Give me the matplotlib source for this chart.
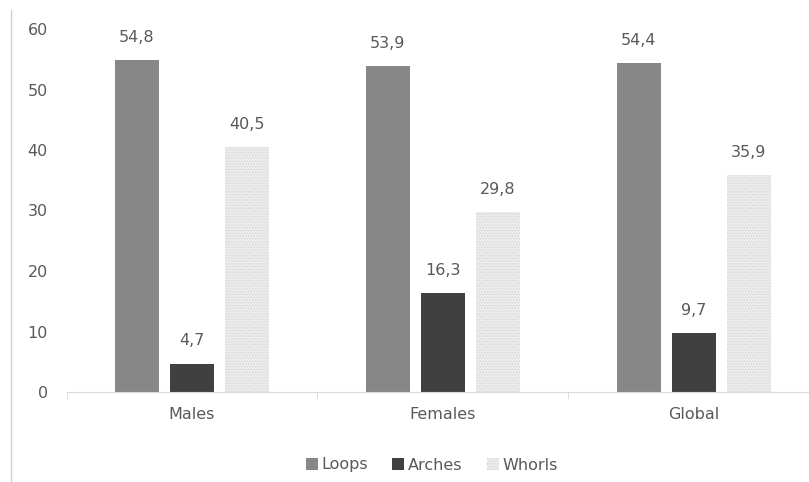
import matplotlib.pyplot as plt
import matplotlib.lines as mlines
import numpy as np

plt.rcParams["font.family"] = ["DejaVu Sans"]
plt.rcParams["hatch.linewidth"] = 0.6

groups = ["Males", "Females", "Global"]
series = ["Loops", "Arches", "Whorls"]
loops = [54.8, 53.9, 54.4]
arches = [4.7, 16.3, 9.7]
whorls = [40.5, 29.8, 35.9]

colors = ["#878787", "#404040", "#ececec"]
txt = "#595959"
fs = 11.5

W, H = 809, 482
unit = 250.75  # px per category
left = 192 - 0.5 * unit
fig = plt.figure(figsize=(W / 100, H / 100), dpi=100)
ax = fig.add_axes([left / W, 1 - 392 / H, 3 * unit / W, (392 - 29) / H])

x = np.arange(len(groups))
w = 44 / unit
step = 55 / unit
for i, (name, vals) in enumerate(zip(series, [loops, arches, whorls])):
    pos = x + (i - 1) * step
    kw = {}
    if name == "Whorls":
        kw = dict(hatch="......", edgecolor="#d4d4d4", linewidth=0)
    bars = ax.bar(pos, vals, w, color=colors[i], label=name, **kw)
    for b, v in zip(bars, vals):
        ax.text(b.get_x() + b.get_width() / 2, v + 2.5, f"{v:.1f}".replace(".", ","),
                ha="center", va="bottom", fontsize=fs, color=txt)

ax.set_ylim(0, 60)
ax.set_xlim(-0.5, 2.5)
ax.set_yticks(range(0, 61, 10))
ax.set_xticks(x)
ax.set_xticklabels(groups)
ax.set_xticks([-0.5, 0.5, 1.5, 2.5], minor=True)
ax.tick_params(axis="x", which="major", length=0, pad=11, labelsize=fs, labelcolor=txt)
ax.tick_params(axis="x", which="minor", length=5, color="#d9d9d9")
ax.tick_params(axis="y", length=0, pad=13.5, labelsize=fs, labelcolor=txt)
for s in ["top", "right", "left"]:
    ax.spines[s].set_visible(False)
ax.spines["bottom"].set_color("#d9d9d9")

leg = fig.legend(loc="center", bbox_to_anchor=(432 / W, 1 - 465 / H), ncol=3,
                 frameon=False, fontsize=fs, handlelength=0.75, handleheight=0.75,
                 columnspacing=1.5, handletextpad=0.25)
for t in leg.get_texts():
    t.set_color(txt)

fig.add_artist(mlines.Line2D([11 / W, 11 / W], [0, 1 - 10 / H], color="#d0d0d0", lw=1))

fig.savefig("out.png", dpi=100)
